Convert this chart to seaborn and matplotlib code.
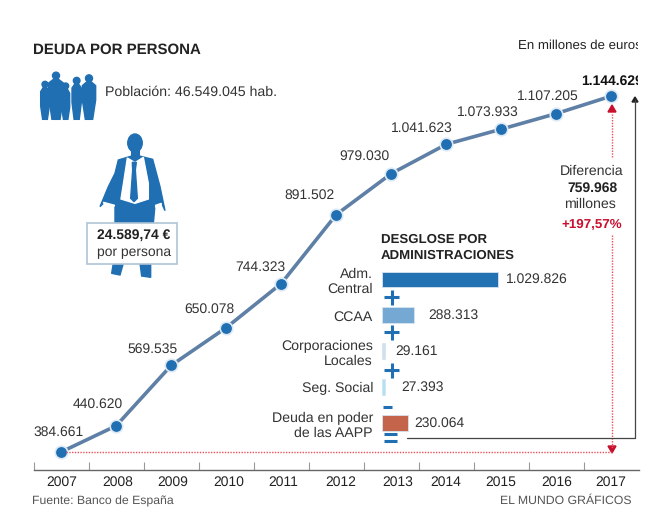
import matplotlib
matplotlib.use("Agg")
import matplotlib.pyplot as plt
from matplotlib.patches import Circle, Ellipse, Polygon, Rectangle
from matplotlib.transforms import IdentityTransform, ScaledTranslation
import pandas as pd
import seaborn as sns

# serie principal, millones de euros
years = [2007, 2008, 2009, 2010, 2011, 2012, 2013, 2014, 2015, 2016, 2017]
debt = [384661, 440620, 569535, 650078, 744323, 891502, 979030, 1041623, 1073933, 1107205, 1144629]

# desglose
admin_names = ["Adm.\nCentral", "CCAA", "Corporaciones\nLocales", "Seg. Social", "Deuda en poder\nde las AAPP"]
admin_values = [1029826, 288313, 29161, 27393, 230064]
admin_colors = ["#2271B3", "#75A9D3", "#CFE0EF", "#AEE3F7", "#C4644A"]

# desplazamientos de etiquetas, en pixeles
label_dx = [-28, -43, -44, -42, -46, -52, -52, -55, -44, -40, -30]
label_dy = [20, 22, 16, 18, 16, 19, 17, 16, 17, 17, 15]
year_dx = [1, 2, 2, 3, 2, 4, 6, -1, -1, 0, -1]
bar_dx = [8, 14, 10, 16, 6]

BLUE = "#1F6FB2"
LINE = "#5F80A6"
RED = "#C8102E"
DARK = "#222222"
PX = 0.72  # pixeles a puntos con dpi 100


def fmt(v):
    return f"{v:,}".replace(",", ".")


sns.set_theme(style="white")
plt.rcParams["font.family"] = ["Liberation Sans", "DejaVu Sans"]
plt.rcParams["text.hinting"] = "no_hinting"

fig = plt.figure(figsize=(6.5, 5.16), dpi=100, facecolor="white")

# ejes principales: 2006.5-2017.5 ocupa 33.6-639 px, base en 470 px
ax = fig.add_axes([33.6 / 650, (516 - 470) / 516, 605.4 / 650, 380 / 516])
units_per_px = (1144629 - 384661) / 356
ax.set_xlim(2006.5, 2017.5)
ax.set_ylim(384661 - 18 * units_per_px, 384661 + 362 * units_per_px)
df = pd.DataFrame({"year": years, "debt": debt})
sns.lineplot(data=df, x="year", y="debt", ax=ax, color=LINE, linewidth=2.6, zorder=3,
             marker="o", markersize=9, markerfacecolor=BLUE, markeredgecolor="#DCE9F4",
             markeredgewidth=1.2, clip_on=False)
ax.patch.set_alpha(0)
ax.set_xlabel("")
ax.set_ylabel("")
ax.set_yticks([])
for side in ["top", "left", "right"]:
    ax.spines[side].set_visible(False)
ax.spines["bottom"].set_color("#666666")
ax.spines["bottom"].set_linewidth(1)
ax.set_xticks(years)
ax.set_xticklabels([str(y) for y in years], fontsize=10, color=DARK)
ax.tick_params(axis="x", which="major", length=0, pad=4)
ax.set_xticks([y - 0.5 for y in years], minor=True)
ax.tick_params(axis="x", which="minor", direction="in", length=6, width=0.8, color="#999999", bottom=True)
for lab, dx in zip(ax.get_xticklabels(), year_dx):
    lab.set_transform(lab.get_transform() + ScaledTranslation(dx / 100, 0, fig.dpi_scale_trans))

# el original corta el texto por la derecha en 638 px
right_clip = Rectangle((0, 0), 638, 516, transform=IdentityTransform())

for i, (y, v) in enumerate(zip(years, debt)):
    last = i == len(years) - 1
    t = ax.annotate(fmt(v), (y, v), xytext=(label_dx[i] * PX, label_dy[i] * PX),
                    textcoords="offset points", ha="left", va="center", fontsize=10,
                    fontweight="bold" if last else "normal", color="#111111" if last else "#333333")
    t.set_clip_path(right_clip)
    t.set_clip_on(True)

# desglose por administraciones
bx = fig.add_axes([382 / 650, (516 - 441) / 516, 248 / 650, 179.5 / 516])
bar_df = pd.DataFrame({"name": admin_names, "value": admin_values})
sns.barplot(data=bar_df, y="name", x="value", hue="name", palette=admin_colors, legend=False,
            ax=bx, orient="h", width=0.44, saturation=1, edgecolor="#D6E4F0", linewidth=0.6)
bx.set_xlim(0, 248 / 115.7 * 1029826)
bx.set_ylim(4.5, -0.5)
bx.patch.set_alpha(0)
bx.set_xlabel("")
bx.set_ylabel("")
bx.set_xticks([])
bx.tick_params(axis="y", length=0, pad=6.5, labelsize=10.2, labelcolor="#333333")
sns.despine(ax=bx, left=True, bottom=True)
for i, v in enumerate(admin_values):
    bx.annotate(fmt(v), (v, i), xytext=(bar_dx[i] * PX, 0), textcoords="offset points",
                ha="left", va="center", fontsize=10, color="#333333")

# capa de anotaciones en pixeles
ov = fig.add_axes([0, 0, 1, 1], zorder=5)
ov.set_xlim(0, 650)
ov.set_ylim(516, 0)
ov.axis("off")
ov.patch.set_alpha(0)

ov.text(33, 50, "DEUDA POR PERSONA", fontsize=10.8, fontweight="bold", color=DARK, va="center")
ov.text(105, 92, "Población: 46.549.045 hab.", fontsize=10.2, color="#333333", va="center")
t = ov.text(518, 46, "En millones de euros", fontsize=9.5, color=DARK, va="center")
t.set_clip_path(right_clip)
t.set_clip_on(True)
ov.text(381, 240, "DESGLOSE POR", fontsize=9.5, fontweight="bold", color=DARK, va="center")
ov.text(381, 255.5, "ADMINISTRACIONES", fontsize=9.5, fontweight="bold", color=DARK, va="center")
ov.text(592, 171, "Diferencia", fontsize=10.2, color="#333333", ha="center", va="center")
ov.text(592, 188, "759.968", fontsize=10, fontweight="bold", color=DARK, ha="center", va="center")
ov.text(590, 204, "millones", fontsize=10.2, color="#333333", ha="center", va="center")
ov.text(592, 225, "+197,57%", fontsize=9.6, fontweight="bold", color=RED, ha="center", va="center")
ov.text(32, 501, "Fuente: Banco de España", fontsize=8.85, color="#555555", va="center")
ov.text(632, 501, "EL MUNDO GRÁFICOS", fontsize=8.8, color="#555555", ha="right", va="center")

# flechas
ov.plot([66, 612], [452, 452], color="#E8505B", lw=1, ls=(0, (1, 1)))
ov.plot([612, 612], [235, 448], color="#E8505B", lw=1, ls=(0, (1, 1)))
ov.plot([612, 612], [157, 112], color="#E8505B", lw=1, ls=(0, (1, 1)))
ov.add_patch(Polygon([(608, 446), (616, 446), (612, 453)], color=RED))
ov.add_patch(Polygon([(608, 112), (616, 112), (612, 105)], color=RED))
ov.plot([407, 635, 635], [438, 438, 100], color="#444444", lw=0.9)
ov.add_patch(Polygon([(632, 102), (638, 102), (635, 97)], color="#222222"))

# signos entre barras
for y in [297, 332, 370]:
    ov.plot([384, 399], [y, y], color=BLUE, lw=2.2, solid_capstyle="butt")
    ov.plot([391.5, 391.5], [y - 7.5, y + 7.5], color=BLUE, lw=2.2, solid_capstyle="butt")
ov.plot([383, 392], [407, 407], color=BLUE, lw=2.2, solid_capstyle="butt")
for y in [434, 441]:
    ov.plot([383.5, 397], [y, y], color=BLUE, lw=2.2, solid_capstyle="butt")


def zoomed(points):
    return [(20 + x / 3, 30 + y / 3) for x, y in points]


# hombre con los bolsillos vacios
ov.add_patch(Ellipse((135, 143), 14.5, 18, color=BLUE))
ov.add_patch(Polygon(zoomed([(335, 350), (358, 350), (358, 378), (398, 388), (408, 425), (420, 470), (435, 542),
                             (425, 520), (405, 525), (400, 580), (392, 700), (392, 742), (365, 738), (360, 700),
                             (310, 700), (300, 735), (275, 730), (280, 700), (285, 580), (285, 525), (255, 515),
                             (240, 530), (265, 470), (285, 430), (295, 390), (335, 378)]), color=BLUE))
ov.add_patch(Polygon(zoomed([(322, 384), (345, 398), (370, 382), (385, 460), (385, 507), (345, 520), (303, 507),
                             (312, 450)]), color="white"))
ov.add_patch(Polygon(zoomed([(337, 397), (349, 397), (346, 420), (352, 505), (342, 515), (332, 505), (338, 420)]), color=BLUE))
ov.add_patch(Polygon(zoomed([(250, 517), (284, 526), (278, 532), (256, 526)]), color="white"))
ov.add_patch(Polygon(zoomed([(407, 526), (424, 520), (422, 530), (408, 533)]), color="white"))
ov.add_patch(Rectangle((86.7, 222.7), 90, 41.6, facecolor="white", edgecolor="#AFC3D6", lw=1.2))
ov.text(133.7, 235, "24.589,74 €", fontsize=10, fontweight="bold", color=DARK, ha="center", va="center")
ov.text(133.7, 252, "por persona", fontsize=10, color="#333333", ha="center", va="center")

# grupo de personas
for cx, head_y, half_w, head_r in [(75, 163, 13, 3), (108, 137, 22, 3.5), (137, 168, 12, 3), (170, 152, 14, 3.3), (207, 145, 20, 3.5)]:
    ov.add_patch(Circle((20 + cx / 3, 30 + head_y / 3), head_r, color=BLUE))
    ov.add_patch(Polygon(zoomed([(cx - 5, head_y + 9), (cx + 5, head_y + 9), (cx + half_w, head_y + 22),
                                 (cx + half_w, head_y + 65), (cx + half_w * 0.55, 268), (cx + 2, 268), (cx, 215),
                                 (cx - 2, 268), (cx - half_w * 0.55, 268), (cx - half_w, head_y + 65),
                                 (cx - half_w, head_y + 22)]), color=BLUE))

fig.savefig("out.png", dpi=100)
